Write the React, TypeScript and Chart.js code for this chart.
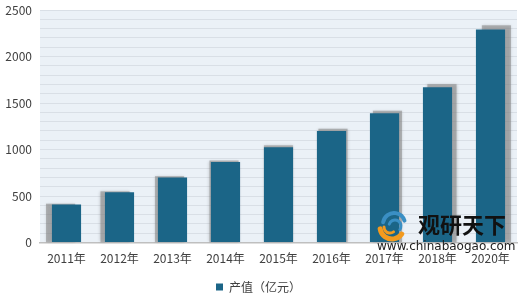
import React, { useEffect, useRef } from "react";
import { Chart, registerables } from "chart.js";

Chart.register(...registerables);

const categories = ["2011年", "2012年", "2013年", "2014年", "2015年", "2016年", "2017年", "2018年", "2020年"];
const outputValues = [410, 540, 700, 865, 1025, 1200, 1390, 1670, 2290];
const seriesLabel = "产值（亿元）";
const yTickLabels = [0, 500, 1000, 1500, 2000, 2500];

const FONT = "'Noto Sans CJK SC', 'Noto Sans', sans-serif";

const bgPlugin = {
  id: "plotBg",
  beforeDraw(chart: any) {
    const { ctx, chartArea } = chart;
    ctx.save();
    ctx.fillStyle = "#ebf1f7";
    ctx.fillRect(chartArea.left, chartArea.top, chartArea.right - chartArea.left, chartArea.bottom - chartArea.top);
    ctx.restore();
  },
};

const shadowPlugin = {
  id: "barShadow",
  beforeDatasetsDraw(chart: any) {
    const { ctx, chartArea } = chart;
    const meta = chart.getDatasetMeta(0);
    const midX = (chartArea.left + chartArea.right) / 2;
    ctx.save();
    meta.data.forEach((bar: any) => {
      const p = bar.getProps(["x", "y", "base", "width"], true);
      const h = p.base - p.y;
      const dx = (p.x - midX) * 0.028;
      const dy = -h * 0.02;
      ctx.shadowColor = "rgba(0,0,0,0.3)";
      ctx.shadowBlur = 3;
      ctx.fillStyle = "rgba(140,140,140,0.6)";
      ctx.fillRect(p.x - p.width / 2 + dx, p.y + dy, p.width, h - dy);
    });
    ctx.restore();
  },
};

const watermarkPlugin = {
  id: "watermark",
  afterDraw(chart: any) {
    const { ctx } = chart;
    ctx.save();
    const cx = 392, cy = 226;
    ctx.lineCap = "round";
    ctx.strokeStyle = "#3a8fc4";
    ctx.lineWidth = 4;
    ctx.beginPath();
    ctx.arc(cx + 2, cy - 2, 11, Math.PI * 1.05, Math.PI * 1.9);
    ctx.stroke();
    ctx.lineWidth = 3;
    ctx.beginPath();
    ctx.arc(cx + 3, cy, 6, Math.PI * 1.1, Math.PI * 2.2);
    ctx.stroke();
    ctx.strokeStyle = "#f39a1e";
    ctx.lineWidth = 5;
    ctx.beginPath();
    ctx.arc(cx, cy + 1, 12, Math.PI * 0.2, Math.PI * 0.95);
    ctx.stroke();
    ctx.lineWidth = 3;
    ctx.beginPath();
    ctx.arc(cx - 2, cy + 1, 6, Math.PI * 0.3, Math.PI * 1.0);
    ctx.stroke();
    ctx.fillStyle = "#111111";
    ctx.font = "bold 22px 'Noto Sans CJK SC', sans-serif";
    ctx.textBaseline = "middle";
    ctx.textAlign = "left";
    ctx.fillText("观研天下", 418, 225);
    ctx.fillStyle = "#222222";
    ctx.font = "12px 'DejaVu Sans', sans-serif";
    ctx.fillText("www.chinabaogao.com", 377, 247);
    ctx.restore();
  },
};

export default function App() {
  const ref = useRef<HTMLCanvasElement | null>(null);
  useEffect(() => {
    document.body.style.margin = "0";
    if (!ref.current) return;
    const chart = new Chart(ref.current, {
      type: "bar",
      data: {
        labels: categories,
        datasets: [
          {
            label: seriesLabel,
            data: outputValues,
            backgroundColor: "#1b6587",
            borderWidth: 0,
            barPercentage: 0.55,
            categoryPercentage: 1,
          },
        ],
      },
      options: {
        animation: false,
        responsive: false,
        maintainAspectRatio: false,
        layout: { padding: { left: 0, right: 3, top: 10, bottom: 0 } },
        scales: {
          x: {
            grid: { display: false, drawTicks: false },
            border: { display: true, color: "#bfbfbf", width: 1.5 },
            ticks: { color: "#404040", font: { family: FONT, size: 12 }, padding: 9, maxRotation: 0 },
          },
          y: {
            min: 0,
            max: 2500,
            afterFit: (scale: any) => {
              scale.width = 40;
              scale.paddingTop = 0;
              scale.paddingBottom = 0;
            },
            grid: { color: "#d9dfe6", drawTicks: false, lineWidth: 1 },
            border: { display: false },
            ticks: {
              stepSize: 100,
              autoSkip: false,
              color: "#404040",
              font: { family: FONT, size: 12 },
              padding: 8,
              callback: (v: any) => (yTickLabels.includes(Number(v)) ? String(v) : ""),
            },
          },
        },
        plugins: {
          legend: {
            position: "bottom",
            labels: {
              boxWidth: 7,
              boxHeight: 7,
              color: "#404040",
              font: { family: FONT, size: 12 },
              padding: 6,
            },
          },
          tooltip: { enabled: false },
        },
      },
      plugins: [bgPlugin, shadowPlugin, watermarkPlugin],
    });
    return () => chart.destroy();
  }, []);
  return (
    <div style={{ width: 520, height: 303, background: "#ffffff" }}>
      <canvas ref={ref} width={520} height={303} style={{ display: "block" }} />
    </div>
  );
}
